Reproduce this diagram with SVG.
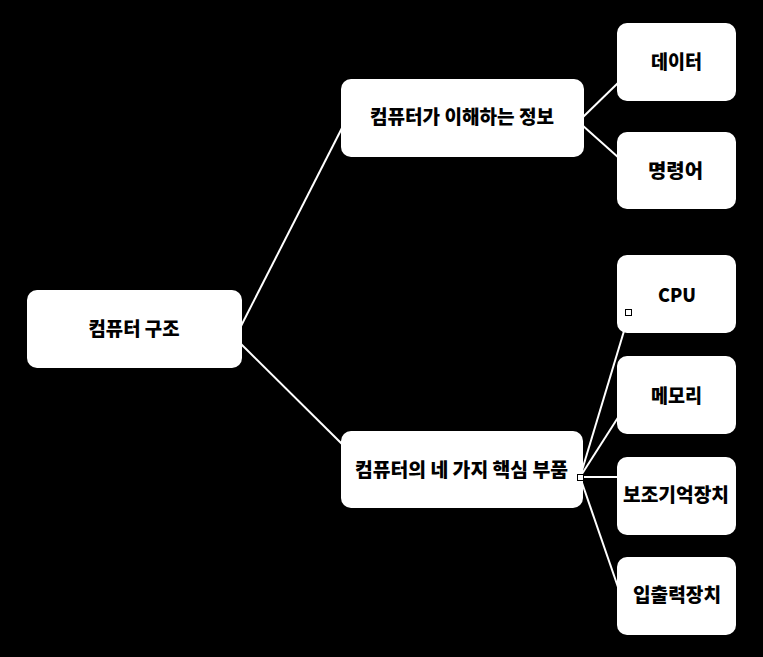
<svg xmlns="http://www.w3.org/2000/svg" width="763" height="657" viewBox="0 0 763 657">
<style>
.bg{fill:#000}
.box{fill:#fff}
.lbl{font-family:"Noto Sans CJK KR","Noto Sans",sans-serif;font-weight:900;font-size:19px;fill:#000;text-anchor:middle}
.edge{stroke:#fff;stroke-width:2;fill:none}
.h{fill:#fff;stroke:#000;stroke-width:1}
</style>
<rect class="bg" x="0" y="0" width="763" height="657"/>
<g id="connectors">
<line class="edge" x1="240" y1="328" x2="343" y2="126"/>
<line class="edge" x1="240" y1="343" x2="343" y2="445"/>
<line class="edge" x1="582" y1="118" x2="619" y2="82"/>
<line class="edge" x1="582" y1="125" x2="619" y2="158"/>
<line class="edge" x1="580" y1="477" x2="624" y2="331"/>
<line class="edge" x1="580" y1="477" x2="619" y2="416"/>
<line class="edge" x1="580" y1="477" x2="619" y2="477"/>
<line class="edge" x1="580" y1="477" x2="619" y2="590"/>
</g>
<g id="n-root"><rect class="box" x="27" y="290" width="215" height="78" rx="10"/><text class="lbl" x="134" y="336" textLength="91" lengthAdjust="spacingAndGlyphs">컴퓨터 구조</text></g>
<g id="n-info"><rect class="box" x="341" y="79" width="243" height="78" rx="10"/><text class="lbl" x="462" y="124" textLength="184" lengthAdjust="spacingAndGlyphs">컴퓨터가 이해하는 정보</text></g>
<g id="n-parts"><rect class="box" x="341" y="431" width="242" height="77" rx="10"/><text class="lbl" x="461.5" y="477" textLength="213" lengthAdjust="spacingAndGlyphs">컴퓨터의 네 가지 핵심 부품</text></g>
<g id="n-data"><rect class="box" x="617" y="23" width="119" height="78" rx="10"/><text class="lbl" x="676.5" y="69" textLength="51" lengthAdjust="spacingAndGlyphs">데이터</text></g>
<g id="n-cmd"><rect class="box" x="617" y="132" width="119" height="77" rx="10"/><text class="lbl" x="675.5" y="177.5" textLength="55" lengthAdjust="spacingAndGlyphs">명령어</text></g>
<g id="n-cpu"><rect class="box" x="617" y="255" width="119" height="78" rx="10"/><text class="lbl" x="677" y="302" textLength="38" lengthAdjust="spacingAndGlyphs">CPU</text></g>
<g id="n-mem"><rect class="box" x="617" y="356" width="119" height="78" rx="10"/><text class="lbl" x="676.5" y="402.5" textLength="51" lengthAdjust="spacingAndGlyphs">메모리</text></g>
<g id="n-storage"><rect class="box" x="617" y="457" width="119" height="78" rx="10"/><text class="lbl" x="676" y="501.5" textLength="106" lengthAdjust="spacingAndGlyphs">보조기억장치</text></g>
<g id="n-io"><rect class="box" x="617" y="557" width="119" height="78" rx="10"/><text class="lbl" x="677" y="602" textLength="88" lengthAdjust="spacingAndGlyphs">입출력장치</text></g>
<g id="handles">
<rect class="h" x="577.5" y="474.5" width="6" height="6"/>
<rect class="h" x="625.5" y="309.5" width="6" height="6"/>
</g>
</svg>
